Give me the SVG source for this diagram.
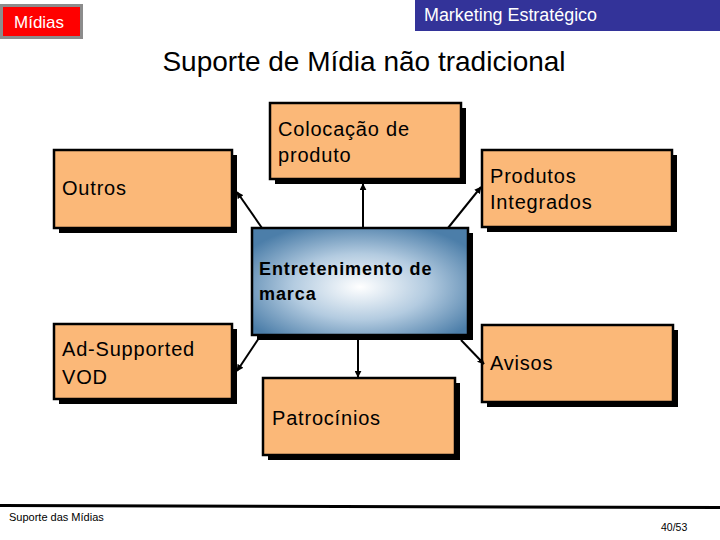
<svg xmlns="http://www.w3.org/2000/svg" width="720" height="540" viewBox="0 0 720 540">
<style>
.box{fill:#fbb878;stroke:#000;stroke-width:2.5}
.sh{fill:#000}
.t{font-family:"Liberation Sans",Arial,sans-serif;font-size:20px;letter-spacing:0.8px;fill:#000}
.tb{font-family:"Liberation Sans",Arial,sans-serif;font-size:18px;font-weight:bold;letter-spacing:0.9px;fill:#000}
.c{stroke:#000;stroke-width:2;fill:none;marker-end:url(#ah)}
</style>
<defs>
<marker id="ah" viewBox="0 0 10 10" refX="9" refY="5" markerWidth="7" markerHeight="7" markerUnits="userSpaceOnUse" orient="auto">
<path d="M0,0 L10,5 L0,10 z" fill="#000"/>
</marker>
<radialGradient id="g" cx="50%" cy="55%" r="62%">
<stop offset="0" stop-color="#ffffff"/>
<stop offset="0.5" stop-color="#b3cbe0"/>
<stop offset="1" stop-color="#4c7ea9"/>
</radialGradient>
</defs>
<rect width="720" height="540" fill="#fff"/>
<g id="header">
<rect x="1.5" y="5.5" width="80" height="32" fill="#ff0000" stroke="#8c8c8c" stroke-width="3"/>
<text x="14" y="28" font-family="'Liberation Sans',Arial,sans-serif" font-size="17" fill="#fff">Mídias</text>
<rect x="415" y="0" width="305" height="31" fill="#333399"/>
<text x="424" y="21" font-family="'Liberation Sans',Arial,sans-serif" font-size="18" fill="#fff" textLength="173" lengthAdjust="spacingAndGlyphs">Marketing Estratégico</text>
<text x="364" y="71" text-anchor="middle" font-family="'Liberation Sans',Arial,sans-serif" font-size="28" fill="#000">Suporte de Mídia não tradicional</text>
</g>
<g id="n-colocacao">
<rect class="sh" x="275" y="108" width="191" height="76"/>
<rect class="box" x="270" y="103" width="191" height="76"/>
<text class="t" x="278" y="136">Colocação de</text>
<text class="t" x="278" y="162">produto</text>
</g>
<g id="n-outros">
<rect class="sh" x="59" y="155" width="178" height="78"/>
<rect class="box" x="54" y="150" width="178" height="78"/>
<text class="t" x="62" y="195">Outros</text>
</g>
<g id="n-produtos">
<rect class="sh" x="487" y="155" width="190" height="77"/>
<rect class="box" x="482" y="150" width="190" height="77"/>
<text class="t" x="490" y="183">Produtos</text>
<text class="t" x="490" y="209">Integrados</text>
</g>
<g id="n-centro">
<rect class="sh" x="257" y="233" width="216" height="107"/>
<rect x="252" y="228" width="216" height="107" fill="url(#g)" stroke="#000" stroke-width="2.5"/>
<text class="tb" x="259" y="275">Entretenimento de</text>
<text class="tb" x="259" y="300">marca</text>
</g>
<g id="n-adsupported">
<rect class="sh" x="59" y="329" width="178" height="75"/>
<rect class="box" x="54" y="324" width="178" height="75"/>
<text class="t" x="62" y="356">Ad-Supported</text>
<text class="t" x="62" y="384">VOD</text>
</g>
<g id="n-avisos">
<rect class="sh" x="487" y="330" width="191" height="77"/>
<rect class="box" x="482" y="325" width="191" height="77"/>
<text class="t" x="490" y="370">Avisos</text>
</g>
<g id="n-patrocinios">
<rect class="sh" x="268" y="383" width="192" height="77"/>
<rect class="box" x="263" y="378" width="192" height="77"/>
<text class="t" x="272" y="425">Patrocínios</text>
</g>
<g id="connectors">
<line class="c" x1="262" y1="228" x2="237" y2="192"/>
<line class="c" x1="363" y1="228" x2="363" y2="184"/>
<line class="c" x1="448" y1="228" x2="481" y2="187"/>
<line class="c" x1="261" y1="335" x2="237" y2="371"/>
<line class="c" x1="358" y1="340" x2="358" y2="377"/>
<line class="c" x1="461" y1="340" x2="484" y2="364"/>
</g>
<g id="footer">
<polygon points="0,504 720,506 720,509 0,507" fill="#000"/>
<text x="9" y="521" font-family="'Liberation Sans',Arial,sans-serif" font-size="11" fill="#000">Suporte das Mídias</text>
<text x="661" y="531" font-family="'Liberation Sans',Arial,sans-serif" font-size="10.5" fill="#000">40/53</text>
</g>
</svg>
